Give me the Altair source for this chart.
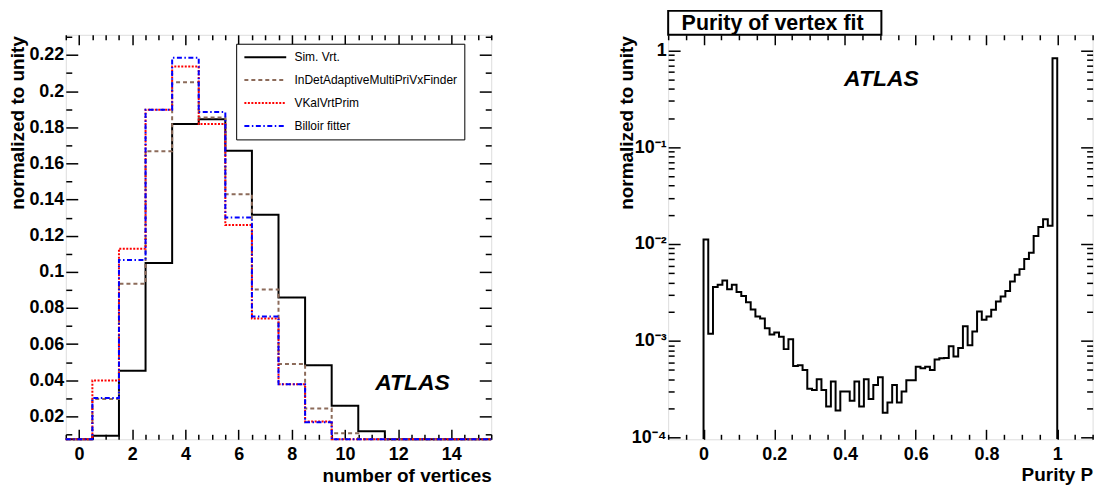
import altair as alt
import pandas as pd

FONT = "Liberation Sans"

# ---------------- left panel: number of vertices ----------------
vertex_bins = list(range(16))
series_names = ["Sim. Vrt.", "InDetAdaptiveMultiPriVxFinder", "VKalVrtPrim", "Billoir fitter"]
sim_vrt = [0, 0.0093, 0.0452, 0.1049, 0.1818, 0.1845, 0.167, 0.1316, 0.0858, 0.0483, 0.0259, 0.0117, 0, 0, 0, 0]
indet_amvf = [0, 0.0296, 0.0934, 0.1667, 0.2049, 0.1854, 0.143, 0.0902, 0.049, 0.0244, 0.0106, 0, 0, 0, 0, 0]
vkal_vrt_prim = [0, 0.0399, 0.1128, 0.1897, 0.2136, 0.1818, 0.1259, 0.0742, 0.0378, 0.0172, 0, 0, 0, 0, 0, 0]
billoir = [0, 0.0301, 0.1066, 0.1897, 0.2185, 0.1884, 0.130, 0.0753, 0.0378, 0.0167, 0, 0, 0, 0, 0, 0]
series_values = [sim_vrt, indet_amvf, vkal_vrt_prim, billoir]
series_colors = ["#000000", "#8c6b5a", "#ff0000", "#0000ff"]
series_dashes = [[1, 0], [4, 3], [2, 1.5], [5, 2.5, 1.5, 2.5]]

left_x_major = [0, 2, 4, 6, 8, 10, 12, 14]
left_x_minor = [k * 0.5 for k in range(-1, 32) if k % 4 != 0]
left_y_major = [round(0.02 * k, 4) for k in range(1, 12)]
left_y_minor = [round(0.01 + 0.02 * k, 4) for k in range(0, 12)]

# ---------------- right panel: purity ----------------
purity_values = [
    0.0111, 0.00118, 0.0036, 0.0038, 0.0042, 0.0034, 0.0038, 0.0032, 0.0029, 0.0025,
    0.0021, 0.00178, 0.0017, 0.00135, 0.00116, 0.00122, 0.0011, 0.00082, 0.00104, 0.00055,
    0.00056, 0.0005, 0.00032, 0.00031, 0.0004, 0.00031, 0.00021, 0.00038, 0.00019, 0.0003,
    0.0003, 0.00024, 0.00038, 0.00021, 0.0004, 0.00025, 0.00035, 0.00042, 0.00018, 0.00023,
    0.00035, 0.00023, 0.0003, 0.00039, 0.00039, 0.00054, 0.00052, 0.00054, 0.0005, 0.00064,
    0.00066, 0.000665, 0.00088, 0.00069, 0.00084, 0.00141, 0.0009, 0.00125, 0.00201, 0.00165,
    0.00178, 0.00209, 0.00254, 0.00286, 0.00327, 0.0041, 0.0048, 0.0055, 0.0070, 0.0081,
    0.0121, 0.0150, 0.018, 0.0154, 0.83,
]
purity_nbins = 75
purity_lo, purity_hi = 0.0, 1.0

right_x_major = [0, 0.2, 0.4, 0.6, 0.8, 1.0]
right_x_minor = [round(k * 0.05, 3) for k in range(-2, 23) if k % 4 != 0]
right_y_major = [1e-4, 1e-3, 1e-2, 1e-1, 1.0]
right_y_minor = [m * 10.0 ** e for e in range(-4, 0) for m in range(2, 10)]

# ---------------- layout constants ----------------
W1, W2, H = 427, 426, 406
LEFT_Y_DOMAIN = [0.0073, 0.2312]
RIGHT_Y_DOMAIN = [9.6e-5, 1.45]

# ---------------- tables ----------------
rows = []
for name, vals in zip(series_names, series_values):
    for i, (b, v) in enumerate(zip(vertex_bins, vals)):
        rows.append({"series": name, "edge": b - 0.5, "value": v, "order": i})
    rows.append({"series": name, "edge": vertex_bins[-1] + 0.5, "value": vals[-1], "order": len(vals)})
left_df = pd.DataFrame(rows)

bw = (purity_hi - purity_lo) / purity_nbins
prow = [{"edge": purity_lo, "value": RIGHT_Y_DOMAIN[0], "order": 0}]
for i, v in enumerate(purity_values):
    prow.append({"edge": purity_lo + i * bw, "value": v, "order": i + 1})
prow.append({"edge": purity_hi, "value": RIGHT_Y_DOMAIN[0], "order": len(purity_values) + 1})
right_df = pd.DataFrame(prow)


def tick_axis(orient, offset, values, size):
    return alt.Axis(orient=orient, offset=offset, values=values, tickSize=size, ticks=True,
                    labels=False, domain=False, grid=False, title=None,
                    tickColor="black", tickWidth=1.5)


def main_x_axis(values, title, width, title_y):
    return alt.Axis(orient="bottom", values=values, format="~g", ticks=False, domain=False, grid=False,
                    labelFont=FONT, labelFontSize=18, labelFontWeight="bold", labelColor="black",
                    labelPadding=6, labelFlush=False, labelOverlap=False,
                    title=title, titleFont=FONT, titleFontSize=19, titleFontWeight="bold",
                    titleColor="black", titleX=width, titleY=title_y, titleAlign="right",
                    titleBaseline="alphabetic")


def main_y_axis(values, title_x, label_expr=None):
    kw = dict(orient="left", values=values, ticks=False, domain=False, grid=False,
              labelFont=FONT, labelFontSize=18, labelFontWeight="bold", labelColor="black",
              labelPadding=2, labelOverlap=False, labelFlush=False,
              title="normalized to unity", titleFont=FONT, titleFontSize=19, titleFontWeight="bold",
              titleColor="black", titleX=title_x, titleY=1, titleAngle=270, titleAlign="right",
              titleBaseline="alphabetic")
    if label_expr:
        kw["labelExpr"] = label_expr
    else:
        kw["format"] = "~g"
    return alt.Axis(**kw)


# ---------------- left panel ----------------
xs_l = alt.Scale(domain=[-0.5, 15.5], nice=False, zero=False)
ys_l = alt.Scale(domain=LEFT_Y_DOMAIN, nice=False, zero=False, clamp=True)

leg = alt.Legend(orient="none", legendX=171, legendY=9, title=None,
                 symbolType="M-1,0L7,0", symbolSize=110.25, symbolStrokeWidth=2,
                 labelFont=FONT, labelFontSize=12, labelColor="black", labelOffset=38.5,
                 labelLimit=400, rowPadding=10, padding=7, strokeColor="black", fillColor="white")

left_lines = alt.Chart(left_df).mark_line(interpolate="step-after", strokeWidth=2, clip=False).encode(
    x=alt.X("edge:Q", scale=xs_l, axis=main_x_axis(left_x_major, "number of vertices", W1, 42)),
    y=alt.Y("value:Q", scale=ys_l, axis=main_y_axis(left_y_major, -42)),
    color=alt.Color("series:N", scale=alt.Scale(domain=series_names, range=series_colors), legend=leg),
    strokeDash=alt.StrokeDash("series:N", scale=alt.Scale(domain=series_names, range=series_dashes), legend=leg),
    order="order:Q",
)


def ghost(df, xs, ys, xa, ya):
    return alt.Chart(df).mark_line(opacity=0).encode(
        x=alt.X("edge:Q", scale=xs, axis=xa),
        y=alt.Y("value:Q", scale=ys, axis=ya),
        order="order:Q",
    )


left_ticks = [
    ghost(left_df, xs_l, ys_l, tick_axis("top", -H, left_x_major, 10), tick_axis("right", -W1, left_y_major, 12)),
    ghost(left_df, xs_l, ys_l, tick_axis("top", -H, left_x_minor, 5), tick_axis("right", -W1, left_y_minor, 6)),
    ghost(left_df, xs_l, ys_l, tick_axis("bottom", -H, left_x_major, 10), tick_axis("left", -W1, left_y_major, 12)),
    ghost(left_df, xs_l, ys_l, tick_axis("bottom", -H, left_x_minor, 5), tick_axis("left", -W1, left_y_minor, 6)),
]

atlas_df = pd.DataFrame({"t": ["ATLAS"]})
left_atlas = alt.Chart(atlas_df).mark_text(font=FONT, fontSize=23, fontWeight="bold", fontStyle="italic",
                                          color="black", align="center", baseline="middle").encode(
    text="t:N", x=alt.value(348), y=alt.value(350))

left = alt.layer(left_lines, *left_ticks, left_atlas).resolve_axis(
    x="independent", y="independent").properties(width=W1, height=H)

# ---------------- right panel ----------------
xs_r = alt.Scale(domain=[-0.1, 1.1], nice=False, zero=False)
ys_r = alt.Scale(type="log", domain=RIGHT_Y_DOMAIN, nice=False, zero=False)

sup_expr = ("datum.value >= 0.5 ? '1' : datum.value >= 0.05 ? '10\u207b\u00b9' : "
            "datum.value >= 0.005 ? '10\u207b\u00b2' : datum.value >= 0.0005 ? '10\u207b\u00b3' : '10\u207b\u2074'")

right_line = alt.Chart(right_df).mark_line(interpolate="step-after", strokeWidth=2, color="black", clip=True).encode(
    x=alt.X("edge:Q", scale=xs_r, axis=main_x_axis(right_x_major, "Purity P", W2, 41)),
    y=alt.Y("value:Q", scale=ys_r, axis=main_y_axis(right_y_major, -36, sup_expr)),
    order="order:Q",
)

right_ticks = [
    ghost(right_df, xs_r, ys_r, tick_axis("top", -H, right_x_major, 10), tick_axis("right", -W2, right_y_major, 12)),
    ghost(right_df, xs_r, ys_r, tick_axis("top", -H, right_x_minor, 5), tick_axis("right", -W2, right_y_minor, 6)),
    ghost(right_df, xs_r, ys_r, tick_axis("bottom", -H, right_x_major, 10), tick_axis("left", -W2, right_y_major, 12)),
    ghost(right_df, xs_r, ys_r, tick_axis("bottom", -H, right_x_minor, 5), tick_axis("left", -W2, right_y_minor, 6)),
]

right_atlas = alt.Chart(atlas_df).mark_text(font=FONT, fontSize=23, fontWeight="bold", fontStyle="italic",
                                           color="black", align="center", baseline="middle").encode(
    text="t:N", x=alt.value(214), y=alt.value(44))

title_df = pd.DataFrame({"t": ["Purity of vertex fit"]})
title_box = alt.Chart(title_df).mark_rect(fill="white", stroke="black", strokeWidth=2, clip=False).encode(
    x=alt.value(0), x2=alt.value(214), y=alt.value(-24), y2=alt.value(0))
title_text = alt.Chart(title_df).mark_text(font=FONT, fontSize=21.5, fontWeight="bold", color="black",
                                           align="left", baseline="middle").encode(
    text="t:N", x=alt.value(13.5), y=alt.value(-11))

right = alt.layer(right_line, *right_ticks, right_atlas, title_box, title_text).resolve_axis(
    x="independent", y="independent").properties(width=W2, height=H)

chart = alt.hconcat(left, right, spacing=177.6, bounds="flush").properties(
    padding={"left": 0, "top": 0, "right": 0, "bottom": 0}
).configure_view(stroke="black", strokeWidth=2).configure(font=FONT)

chart.save("out.html", embed_options={"renderer": "svg", "actions": False})
